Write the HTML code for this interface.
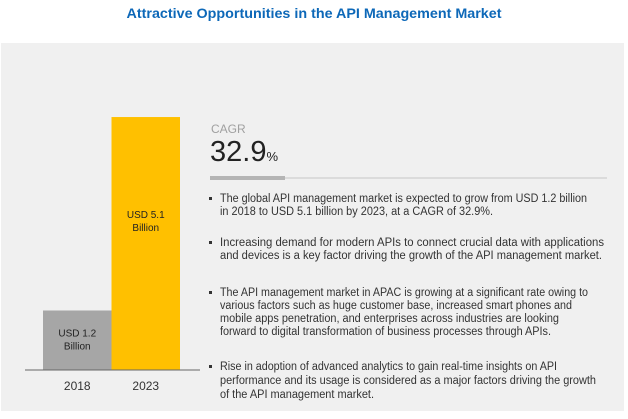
<!DOCTYPE html>
<html><head><meta charset="utf-8"><style>
body{margin:0;background:#fff;width:628px;height:414px;overflow:hidden}
text{font-family:"Liberation Sans",sans-serif}
</style></head><body>
<svg width="628" height="414">
<text x="314" y="18" text-anchor="middle" font-size="14" font-weight="bold" fill="#0d68b8" textLength="375" lengthAdjust="spacingAndGlyphs">Attractive Opportunities in the API Management Market</text>
<rect x="1" y="43" width="623" height="368" fill="#f0f0f0"/>
<g id="bars"></g>
<line x1="25" y1="370" x2="200" y2="370" stroke="#666" stroke-width="1"/>
<text x="211" y="133" font-size="12" fill="#a0a0a0">CAGR</text>
<text x="210" y="161" font-size="29" fill="#222">32.9<tspan font-size="13">%</tspan></text>
<line x1="210" y1="178" x2="607" y2="178" stroke="#d4d4d4" stroke-width="1.5"/>
<rect x="210" y="176" width="75" height="4" fill="#b4b4b4"/>
<g font-size="11.5" fill="#333">
<rect x="209" y="197" width="3" height="3" fill="#333"/>
<text x="220" y="202" textLength="367" lengthAdjust="spacingAndGlyphs">The global API management market is expected to grow from USD 1.2 billion</text>
<text x="220" y="215" textLength="273" lengthAdjust="spacingAndGlyphs">in 2018 to USD 5.1 billion by 2023, at a CAGR of 32.9%.</text>
<rect x="209" y="241" width="3" height="3" fill="#333"/>
<text x="220" y="246" textLength="384" lengthAdjust="spacingAndGlyphs">Increasing demand for modern APIs to connect crucial data with applications</text>
<text x="220" y="259" textLength="382" lengthAdjust="spacingAndGlyphs">and devices is a key factor driving the growth of the API management market.</text>
<rect x="209" y="291" width="3" height="3" fill="#333"/>
<text x="220" y="296" textLength="368" lengthAdjust="spacingAndGlyphs">The API management market in APAC is growing at a significant rate owing to</text>
<text x="220" y="309" textLength="352" lengthAdjust="spacingAndGlyphs">various factors such as huge customer base, increased smart phones and</text>
<text x="220" y="322" textLength="339" lengthAdjust="spacingAndGlyphs">mobile apps penetration, and enterprises across industries are looking</text>
<text x="220" y="335" textLength="331" lengthAdjust="spacingAndGlyphs">forward to digital transformation of business processes through APIs.</text>
<rect x="209" y="365" width="3" height="3" fill="#333"/>
<text x="220" y="370" textLength="337" lengthAdjust="spacingAndGlyphs">Rise in adoption of advanced analytics to gain real-time insights on API</text>
<text x="220" y="384" textLength="376" lengthAdjust="spacingAndGlyphs">performance and its usage is considered as a major factors driving the growth</text>
<text x="220" y="398" textLength="154" lengthAdjust="spacingAndGlyphs">of the API management market.</text>
</g>
</svg>
<script>
const years = ["2018","2023"];
const values = [1.2, 5.1];
const valueLabels = ["USD 1.2", "USD 5.1"];
const colors = ["#a6a6a6","#ffc000"];
const ns="http://www.w3.org/2000/svg";
const g=document.getElementById('bars');
const baseY=370, pxPerUnit=49.6, x0=43, bw=68.5;
function y(v){return baseY - v*pxPerUnit;}
function xb(i){return x0 + i*bw;}
years.forEach((yr,i)=>{
  const r=document.createElementNS(ns,'rect');
  r.setAttribute('x',xb(i));r.setAttribute('y',y(values[i]));
  r.setAttribute('width',bw);r.setAttribute('height',baseY-y(values[i]));
  r.setAttribute('fill',colors[i]);
  
  
  g.appendChild(r);
  const cx=xb(i)+bw/2;
  const ly = i===0 ? y(values[i])+26 : y(values[i])+101;
  const t1=document.createElementNS(ns,'text');
  t1.setAttribute('x',cx);t1.setAttribute('y',ly);t1.setAttribute('text-anchor','middle');
  t1.setAttribute('font-size','10');t1.setAttribute('fill','#222');
  t1.textContent=valueLabels[i];
  
  
  g.appendChild(t1);
  const t2=document.createElementNS(ns,'text');
  t2.setAttribute('x',cx);t2.setAttribute('y',ly+13);t2.setAttribute('text-anchor','middle');
  t2.setAttribute('font-size','10');t2.setAttribute('fill','#222');
  t2.textContent='Billion';
  
  
  g.appendChild(t2);
  const t3=document.createElementNS(ns,'text');
  t3.setAttribute('x',cx);t3.setAttribute('y',390);t3.setAttribute('text-anchor','middle');
  t3.setAttribute('font-size','12');t3.setAttribute('fill','#333');
  t3.textContent=yr;
  
  
  g.appendChild(t3);
});
</script>
</body></html>
